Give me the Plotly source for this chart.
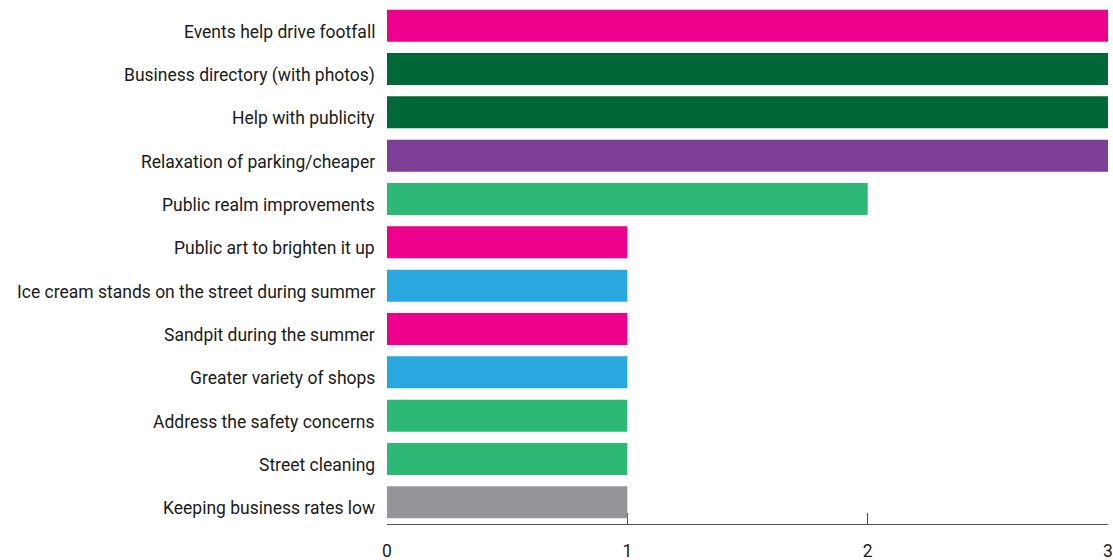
import plotly.graph_objects as go

categories = [
    "Events help drive footfall",
    "Business directory (with photos)",
    "Help with publicity",
    "Relaxation of parking/cheaper",
    "Public realm improvements",
    "Public art to brighten it up",
    "Ice cream stands on the street during summer",
    "Sandpit during the summer",
    "Greater variety of shops",
    "Address the safety concerns",
    "Street cleaning",
    "Keeping business rates low",
]
values = [3, 3, 3, 3, 2, 1, 1, 1, 1, 1, 1, 1]
colors = [
    "#EC008C", "#006838", "#006838", "#7E3F98", "#2DB875", "#EC008C",
    "#29A8E0", "#EC008C", "#29A8E0", "#2DB875", "#2DB875", "#939598",
]
x_ticks = [0, 1, 2, 3]

FONT = "Roboto, Inter, sans-serif"
TEXT_COLOR = "#1a1a1a"

fig = go.Figure(
    go.Bar(
        x=values,
        y=categories,
        orientation="h",
        marker=dict(color=colors, line=dict(width=0)),
        hoverinfo="x+y",
    )
)

# Category labels sit a little below each bar's centre line
for cat in categories:
    fig.add_annotation(
        x=0, xref="paper",
        y=cat, yref="y",
        text=cat,
        showarrow=False,
        xanchor="right",
        yanchor="middle",
        xshift=-10,
        yshift=-6,
        font=dict(family=FONT, size=17.5, color=TEXT_COLOR),
    )

fig.update_layout(
    width=1113,
    height=560,
    margin=dict(l=387, r=5, t=4, b=36, autoexpand=False),
    paper_bgcolor="white",
    plot_bgcolor="white",
    bargap=0.26,
    showlegend=False,
    font=dict(family=FONT, size=17.5, color=TEXT_COLOR),
)
fig.update_xaxes(
    range=[0, 3],
    tickvals=x_ticks,
    ticks="inside",
    ticklen=11,
    tickcolor="#555555",
    tickwidth=1,
    showline=True,
    linecolor="#555555",
    linewidth=1,
    showgrid=False,
    zeroline=False,
    automargin=False,
    layer="below traces",
    ticklabelstandoff=11,
    tickfont=dict(family=FONT, size=17.5, color=TEXT_COLOR),
)
fig.update_yaxes(
    autorange="reversed",
    showgrid=False,
    showline=False,
    ticks="",
    showticklabels=False,
    automargin=False,
)

fig.write_html("out.html")
